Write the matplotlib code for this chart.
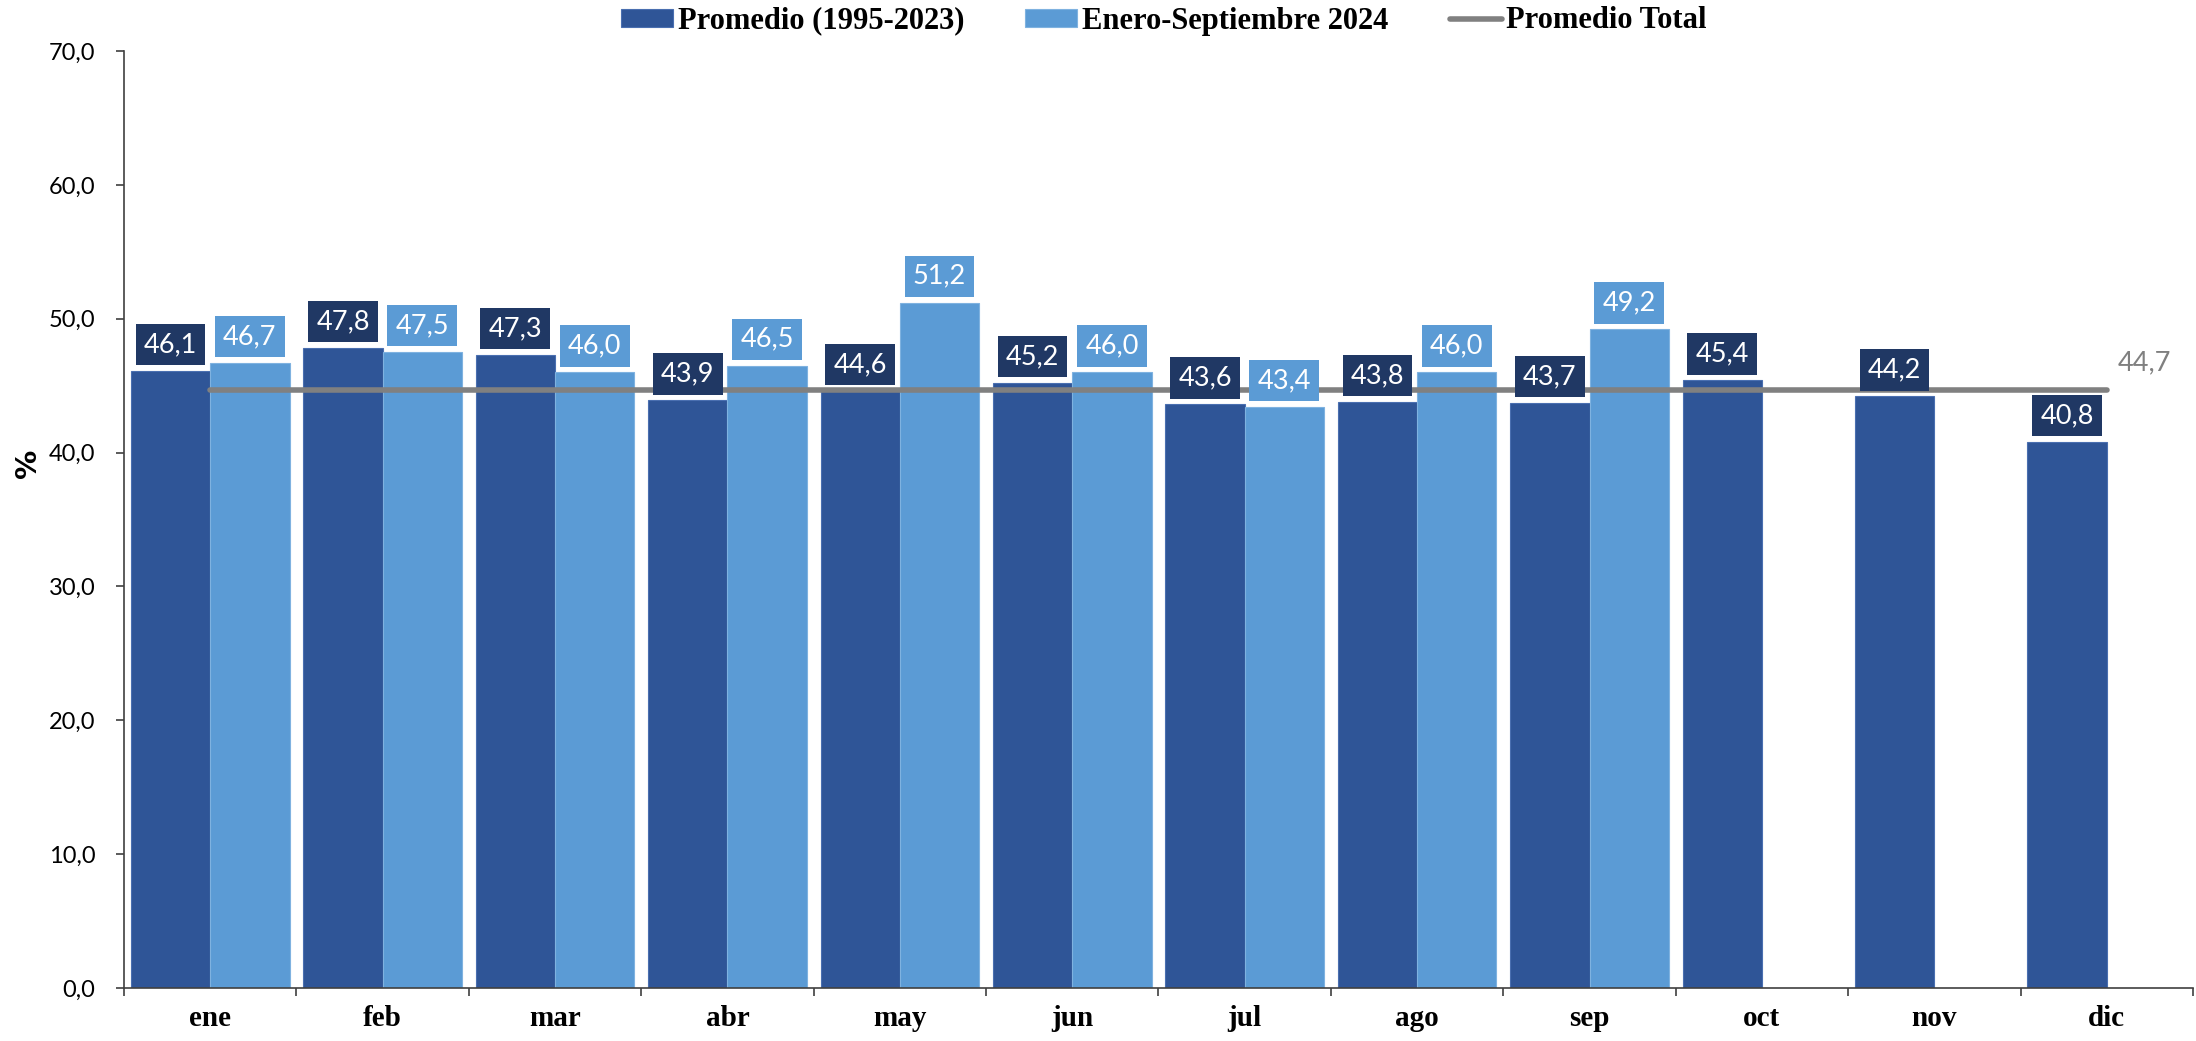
import numpy as np
import matplotlib.pyplot as plt

meses = ["ene", "feb", "mar", "abr", "may", "jun", "jul", "ago", "sep", "oct", "nov", "dic"]
promedio_hist = [46.1, 47.8, 47.3, 43.9, 44.6, 45.2, 43.6, 43.8, 43.7, 45.4, 44.2, 40.8]
ene_sep_2024 = [46.7, 47.5, 46.0, 46.5, 51.2, 46.0, 43.4, 46.0, 49.2, np.nan, np.nan, np.nan]
promedio_total = 44.7

c_dark = "#2F5597"
c_light = "#5B9BD5"
c_box = "#203864"
c_gray = "#808080"

fig = plt.figure(figsize=(21.96, 10.41), dpi=100)
ax = fig.add_axes([0.0565, 0.0509, 0.9421, 0.9001])

x = np.arange(len(meses))
w = 0.46
b1 = ax.bar(x - w / 2, promedio_hist, w, color=c_dark, edgecolor="#4a6fb0", linewidth=0.8,
            label="Promedio (1995-2023)", zorder=2)
b2 = ax.bar(x + w / 2, ene_sep_2024, w, color=c_light, edgecolor="#7fb2e0", linewidth=0.8,
            label="Enero-Septiembre 2024", zorder=2)
ln, = ax.plot([x[0], x[-1]], [promedio_total, promedio_total], color=c_gray, lw=4,
              solid_capstyle="round", label="Promedio Total", zorder=3)

def fmt(v):
    return f"{v:.1f}".replace(".", ",")

for xi, v in zip(x - w / 2, promedio_hist):
    ax.annotate(fmt(v), (xi, v), xytext=(0, 10), textcoords="offset points",
                ha="center", va="bottom", color="white", fontsize=19.5, family="Lato",
                bbox=dict(boxstyle="square,pad=0.3", fc=c_box, ec="none"), zorder=5)
for xi, v in zip(x + w / 2, ene_sep_2024):
    if np.isnan(v):
        continue
    ax.annotate(fmt(v), (xi, v), xytext=(0, 10), textcoords="offset points",
                ha="center", va="bottom", color="white", fontsize=19.5, family="Lato",
                bbox=dict(boxstyle="square,pad=0.3", fc=c_light, ec="none"), zorder=5)

ax.annotate(fmt(promedio_total), (x[-1], promedio_total), xytext=(8, 10),
            textcoords="offset points", ha="left", va="bottom", color=c_gray,
            fontsize=19.5, family="Lato")

ax.set_xlim(-0.5, len(meses) - 0.5)
ax.set_ylim(0, 70)
ax.set_yticks(np.arange(0, 71, 10))
ax.set_yticklabels([fmt(v) for v in np.arange(0, 71, 10)], fontsize=17, family="Lato")
ax.set_xticks(x)
ax.set_xticklabels(meses, fontsize=21, family="Liberation Serif", fontweight="bold")
ax.set_xticks(np.arange(-0.5, len(meses)), minor=True)
ax.tick_params(axis="x", which="major", length=0, pad=12)
ax.tick_params(axis="x", which="minor", length=6, width=1.2, color="#404040")
ax.tick_params(axis="y", length=5.5, width=1.2, color="#404040", pad=15)

for s in ["top", "right"]:
    ax.spines[s].set_visible(False)
for s in ["left", "bottom"]:
    ax.spines[s].set_color("#404040")
    ax.spines[s].set_linewidth(1.2)

ax.set_ylabel("%", fontsize=21, fontweight="bold")
ax.yaxis.set_label_coords(-0.0396, 0.56)

fig.legend(handles=[b1, b2, ln], loc="center", bbox_to_anchor=(0.530, 1 - 21 / 1041), ncol=3,
           frameon=False, prop={"family": "Liberation Serif", "weight": "bold", "size": 22},
           handlelength=1.7, handleheight=0.52, handletextpad=0.16, columnspacing=2.0,
           borderpad=0)

fig.savefig("out.png", dpi=100)
